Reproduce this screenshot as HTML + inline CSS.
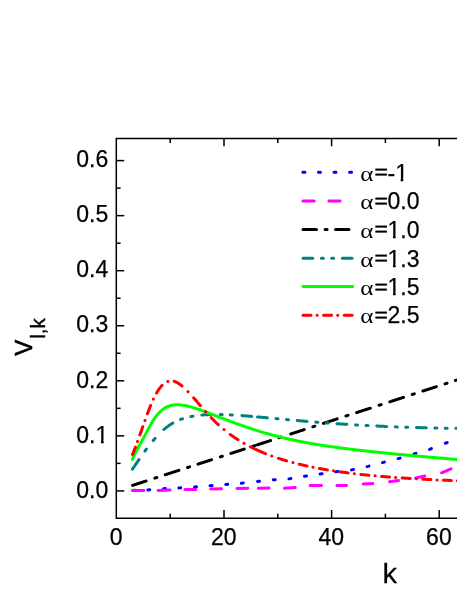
<!DOCTYPE html><html><head><meta charset="utf-8"><style>html,body{margin:0;padding:0;background:#fff;overflow:hidden}svg{display:block;will-change:transform}</style></head><body><svg width="457" height="591" viewBox="0 0 457 591">
<rect width="457" height="591" fill="#fff"/>
<g stroke="#000" stroke-width="1.5" fill="none" stroke-linecap="square">
<path d="M460,138.55 H116.3 V518.15 H460"/>
<path stroke-linecap="butt" d="M170.20,518.15 v-4.4 M170.20,138.55 v4.35"/>
<path stroke-linecap="butt" d="M224.00,518.15 v-8.1 M224.00,138.55 v7.8"/>
<path stroke-linecap="butt" d="M277.80,518.15 v-4.4 M277.80,138.55 v4.35"/>
<path stroke-linecap="butt" d="M331.60,518.15 v-8.1 M331.60,138.55 v7.8"/>
<path stroke-linecap="butt" d="M385.40,518.15 v-4.4 M385.40,138.55 v4.35"/>
<path stroke-linecap="butt" d="M439.20,518.15 v-8.1 M439.20,138.55 v7.8"/>
<path stroke-linecap="butt" d="M116.3,490.90 h7.95"/>
<path stroke-linecap="butt" d="M116.3,463.38 h4.3"/>
<path stroke-linecap="butt" d="M116.3,435.85 h7.95"/>
<path stroke-linecap="butt" d="M116.3,408.32 h4.3"/>
<path stroke-linecap="butt" d="M116.3,380.80 h7.95"/>
<path stroke-linecap="butt" d="M116.3,353.27 h4.3"/>
<path stroke-linecap="butt" d="M116.3,325.75 h7.95"/>
<path stroke-linecap="butt" d="M116.3,298.22 h4.3"/>
<path stroke-linecap="butt" d="M116.3,270.70 h7.95"/>
<path stroke-linecap="butt" d="M116.3,243.17 h4.3"/>
<path stroke-linecap="butt" d="M116.3,215.65 h7.95"/>
<path stroke-linecap="butt" d="M116.3,188.12 h4.3"/>
<path stroke-linecap="butt" d="M116.3,160.60 h7.95"/>
</g>
<g font-family="Liberation Sans, sans-serif" font-size="23" fill="#000" stroke="#000" stroke-width="0.25">
<text x="108.3" y="497.60" text-anchor="end">0.0</text>
<text x="108.3" y="442.55" text-anchor="end">0.1</text>
<text x="108.3" y="387.50" text-anchor="end">0.2</text>
<text x="108.3" y="332.45" text-anchor="end">0.3</text>
<text x="108.3" y="277.40" text-anchor="end">0.4</text>
<text x="108.3" y="222.35" text-anchor="end">0.5</text>
<text x="108.3" y="167.30" text-anchor="end">0.6</text>
<text x="116.10" y="545.1" text-anchor="middle">0</text>
<text x="223.70" y="545.1" text-anchor="middle">20</text>
<text x="331.30" y="545.1" text-anchor="middle">40</text>
<text x="438.90" y="545.1" text-anchor="middle">60</text>
</g>
<text transform="translate(382.55,582.6) scale(1.02,1)" font-family="Liberation Sans, sans-serif" font-size="28.5" stroke="#000" stroke-width="0.25">k</text>
<g transform="translate(32.1,355.8) rotate(-90)" font-family="Liberation Sans, sans-serif" stroke="#000"><text x="0" y="0" font-size="24" stroke-width="0.6">V</text><text x="17.1" y="12.6" font-size="20.5" stroke-width="0.4">l,k</text></g>
<g fill="none" stroke-width="3.0" stroke-linecap="round" stroke-linejoin="round"><g transform="translate(0,0)">
<path stroke="#0000ff" d="M133.00,490.44 L135.00,490.36"/>
<path stroke="#0000ff" d="M147.75,489.88 L149.75,489.72"/>
<path stroke="#0000ff" d="M163.40,488.65 L165.40,488.55"/>
<path stroke="#0000ff" d="M178.75,487.96 L180.75,487.84"/>
<path stroke="#0000ff" d="M194.50,486.98 L196.50,486.82"/>
<path stroke="#0000ff" d="M210.00,485.73 L212.00,485.57"/>
<path stroke="#0000ff" d="M225.75,484.48 L227.75,484.32"/>
<path stroke="#0000ff" d="M241.26,483.26 L243.24,483.04"/>
<path stroke="#0000ff" d="M257.51,481.40 L259.49,481.20"/>
<path stroke="#0000ff" d="M273.25,479.76 L275.25,479.64"/>
<path stroke="#0000ff" d="M288.91,478.86 L290.89,478.54"/>
<path stroke="#0000ff" d="M304.51,476.25 L306.49,475.95"/>
<path stroke="#0000ff" d="M320.11,473.94 L322.09,473.66"/>
<path stroke="#0000ff" d="M335.76,471.78 L337.74,471.52"/>
<path stroke="#0000ff" d="M351.52,469.86 L353.48,469.44"/>
<path stroke="#0000ff" d="M367.03,466.65 L368.97,466.15"/>
<path stroke="#0000ff" d="M382.43,462.65 L384.37,462.15"/>
<path stroke="#0000ff" d="M398.14,458.68 L400.06,458.12"/>
<path stroke="#0000ff" d="M414.04,453.99 L415.96,453.41"/>
<path stroke="#0000ff" d="M429.57,449.36 L431.43,448.64"/>
<path stroke="#0000ff" d="M445.32,443.26 L447.18,442.54"/>
<path stroke="#ff00ff" d="M132.50,490.40 L143.75,490.40"/>
<path stroke="#ff00ff" d="M158.10,490.50 L170.00,490.10"/>
<path stroke="#ff00ff" d="M185.00,489.60 L195.75,489.40"/>
<path stroke="#ff00ff" d="M210.75,489.00 L221.50,488.80"/>
<path stroke="#ff00ff" d="M237.00,488.40 L247.75,488.30"/>
<path stroke="#ff00ff" d="M258.25,488.30 L269.00,488.10"/>
<path stroke="#ff00ff" d="M284.50,488.20 L295.25,487.60"/>
<path stroke="#ff00ff" d="M310.25,485.60 L321.50,485.40"/>
<path stroke="#ff00ff" d="M337.00,485.60 L346.50,485.40"/>
<path stroke="#ff00ff" d="M363.25,483.90 L372.75,483.50"/>
<path stroke="#ff00ff" d="M389.50,481.65 L398.50,480.40"/>
<path stroke="#ff00ff" d="M415.75,477.90 L424.75,476.00"/>
<path stroke="#ff00ff" d="M441.50,472.80 L451.00,468.90"/>
<path stroke="#000" d="M132.50,485.40 L133.05,485.22 L133.59,485.04 L134.14,484.87 L134.69,484.69 L135.23,484.51 L135.78,484.33 L136.33,484.16 L136.87,483.98 L137.42,483.80 L137.97,483.62 L138.51,483.45 L139.06,483.27 L139.61,483.09 L140.15,482.91 L140.70,482.74 L141.25,482.56 L141.79,482.38 L142.34,482.20 L142.89,482.03 L143.43,481.85 L143.98,481.67 L144.53,481.49 L145.08,481.31 L145.62,481.14 L146.11,480.98 M154.78,478.16 L154.92,478.12 L155.46,477.94 L156.01,477.76 L156.56,477.58 L156.80,477.51 M165.27,474.75 L165.30,474.74 L165.85,474.56 L166.40,474.39 L166.94,474.21 L167.49,474.03 L168.04,473.85 L168.59,473.68 L169.13,473.50 L169.68,473.32 L170.23,473.14 L170.77,472.97 L171.32,472.79 L171.87,472.61 L172.41,472.43 L172.96,472.26 L173.51,472.08 L174.05,471.90 L174.60,471.72 L175.15,471.54 L175.69,471.37 L176.24,471.19 L176.79,471.01 L177.33,470.83 L177.88,470.66 L178.43,470.48 L178.88,470.33 M187.55,467.52 L187.72,467.46 L188.27,467.28 L188.81,467.10 L189.36,466.93 L189.56,466.86 M198.03,464.11 L198.11,464.08 L198.66,463.91 L199.20,463.73 L199.75,463.55 L200.30,463.37 L200.84,463.20 L201.39,463.02 L201.94,462.84 L202.48,462.66 L203.03,462.49 L203.58,462.31 L204.12,462.13 L204.67,461.95 L205.22,461.78 L205.76,461.60 L206.31,461.42 L206.86,461.24 L207.40,461.06 L207.95,460.89 L208.50,460.71 L209.04,460.53 L209.59,460.35 L210.14,460.18 L210.68,460.00 L211.23,459.82 L211.64,459.69 M220.31,456.87 L220.53,456.80 L221.07,456.62 L221.62,456.45 L222.17,456.27 L222.33,456.22 M230.80,453.46 L230.91,453.43 L231.46,453.25 L232.01,453.07 L232.55,452.89 L233.10,452.72 L233.65,452.54 L234.19,452.36 L234.74,452.18 L235.29,452.01 L235.83,451.83 L236.38,451.65 L236.93,451.47 L237.47,451.30 L238.02,451.12 L238.57,450.94 L239.12,450.76 L239.66,450.58 L240.21,450.41 L240.76,450.23 L241.30,450.05 L241.85,449.87 L242.40,449.70 L242.94,449.52 L243.49,449.34 L244.04,449.16 L244.30,449.08 M252.90,446.28 L253.33,446.14 L253.88,445.97 L254.42,445.79 L254.90,445.63 M257.30,444.85 L257.70,444.72 L258.25,444.55 L258.80,444.37 L259.34,444.19 L259.89,444.01 L260.44,443.83 L260.98,443.66 L261.53,443.48 L262.08,443.30 L262.63,443.12 L263.17,442.95 L263.72,442.77 L264.27,442.59 L264.81,442.41 L265.36,442.24 L265.91,442.06 L266.45,441.88 L267.00,441.70 L267.55,441.53 L268.09,441.35 L268.64,441.17 L269.19,440.99 L269.73,440.82 L270.28,440.64 L270.57,440.54 M279.02,437.80 L279.03,437.80 L279.57,437.62 L280.12,437.44 L280.67,437.26 L281.15,437.11 M290.78,433.98 L291.06,433.89 L291.60,433.71 L292.15,433.53 L292.70,433.35 L293.24,433.18 L293.79,433.00 L294.34,432.82 L294.88,432.64 L295.43,432.47 L295.98,432.29 L296.52,432.11 L297.07,431.93 L297.62,431.76 L298.16,431.58 L298.71,431.40 L299.26,431.22 L299.80,431.05 L300.35,430.87 L300.90,430.69 L301.44,430.51 L301.99,430.33 L302.54,430.16 L303.08,429.98 L303.63,429.80 L304.18,429.62 L304.24,429.60 M312.80,426.82 L312.93,426.78 L313.47,426.60 L314.02,426.43 L314.57,426.25 L314.82,426.17 M323.39,423.38 L323.86,423.23 L324.41,423.05 L324.95,422.87 L325.50,422.70 L326.05,422.52 L326.59,422.34 L327.14,422.16 L327.69,421.99 L328.23,421.81 L328.78,421.63 L329.33,421.45 L329.87,421.28 L330.42,421.10 L330.97,420.92 L331.52,420.74 L332.06,420.57 L332.61,420.39 L333.16,420.21 L333.70,420.03 L334.25,419.85 L334.80,419.68 L335.34,419.50 L335.89,419.32 L336.44,419.14 L336.98,418.97 L337.17,418.91 M345.95,416.05 L346.28,415.95 L346.82,415.77 L347.37,415.59 L347.92,415.41 L347.99,415.39 M356.56,412.61 L356.67,412.57 L357.21,412.39 L357.76,412.22 L358.31,412.04 L358.85,411.86 L359.40,411.68 L359.95,411.51 L360.49,411.33 L361.04,411.15 L361.59,410.97 L362.13,410.80 L362.68,410.62 L363.23,410.44 L363.77,410.26 L364.32,410.09 L364.87,409.91 L365.41,409.73 L365.96,409.55 L366.51,409.37 L367.05,409.20 L367.60,409.02 L368.15,408.84 L368.69,408.66 L369.24,408.49 L369.79,408.31 L370.33,408.13 L370.34,408.13 M379.12,405.28 L379.63,405.11 L380.18,404.93 L380.72,404.76 L381.16,404.61 M389.73,401.83 L390.02,401.74 L390.56,401.56 L391.11,401.38 L391.66,401.20 L392.20,401.03 L392.75,400.85 L393.30,400.67 L393.84,400.49 L394.39,400.32 L394.94,400.14 L395.48,399.96 L396.03,399.78 L396.58,399.61 L397.12,399.43 L397.67,399.25 L398.22,399.07 L398.76,398.89 L399.31,398.72 L399.86,398.54 L400.40,398.36 L400.95,398.18 L401.50,398.01 L402.05,397.83 L402.59,397.65 L403.14,397.47 L403.51,397.35 M412.29,394.50 L412.43,394.45 L412.98,394.28 L413.53,394.10 L414.07,393.92 L414.33,393.84 M422.90,391.05 L423.37,390.90 L423.91,390.72 L424.46,390.55 L425.01,390.37 L425.56,390.19 L426.10,390.01 L426.65,389.84 L427.20,389.66 L427.74,389.48 L428.29,389.30 L428.84,389.12 L429.38,388.95 L429.93,388.77 L430.48,388.59 L431.02,388.41 L431.57,388.24 L432.12,388.06 L432.66,387.88 L433.21,387.70 L433.76,387.53 L434.30,387.35 L434.85,387.17 L435.40,386.99 L435.94,386.82 L436.40,386.67 M445.00,383.87 L445.24,383.80 L445.78,383.62 L446.33,383.44 L446.88,383.26 L447.00,383.22 M455.40,380.49 L455.63,380.42 L456.17,380.24 L456.72,380.07 L457.27,379.89 L457.81,379.71 L458.36,379.53 L458.91,379.36 L459.45,379.18 L460.00,379.00"/>
<path stroke="#008080" d="M132.43,469.18 L132.70,468.80 L132.98,468.41 L133.25,468.02 L133.52,467.62 L133.80,467.23 L134.07,466.83 L134.34,466.43 L134.62,466.03 L134.89,465.62 L135.16,465.22 L135.44,464.81 L135.71,464.41 L135.98,464.00 L136.25,463.60 L136.53,463.19 L136.80,462.78 L137.07,462.37 L137.35,461.97 L137.62,461.56 L137.89,461.15 L138.17,460.75 L138.44,460.34 L138.71,459.94 L138.96,459.58 M144.90,451.11 L145.00,450.98 L145.27,450.61 L145.54,450.24 L145.82,449.87 L146.09,449.51 L146.36,449.14 L146.40,449.10 M153.22,440.54 L153.47,440.25 L153.74,439.93 L154.01,439.61 L154.29,439.30 L154.56,438.98 L154.83,438.67 L155.03,438.45 M163.89,429.49 L164.12,429.29 L164.39,429.06 L164.67,428.82 L164.94,428.60 L165.21,428.37 L165.49,428.15 L165.76,427.92 L166.03,427.70 L166.31,427.49 L166.58,427.27 L166.85,427.06 L167.13,426.85 L167.40,426.65 L167.67,426.44 L167.95,426.24 L168.22,426.05 L168.49,425.85 L168.77,425.66 L169.04,425.46 L169.31,425.28 L169.59,425.09 L169.86,424.91 L170.13,424.72 L170.41,424.55 L170.68,424.37 L170.95,424.20 L171.22,424.02 L171.50,423.86 L171.77,423.69 L172.04,423.53 L172.32,423.36 L172.59,423.20 L172.77,423.10 M180.59,419.46 L180.79,419.38 L181.06,419.28 L181.33,419.19 L181.61,419.09 L181.88,418.99 L182.15,418.90 L182.43,418.81 L182.51,418.78 M190.99,416.55 L191.17,416.51 L191.44,416.46 L191.71,416.40 L191.99,416.35 L192.26,416.30 L192.53,416.25 L192.81,416.20 L193.02,416.16 M201.80,415.02 L201.82,415.02 L202.10,415.00 L202.37,414.98 L202.64,414.95 L202.92,414.93 L203.19,414.91 L203.46,414.89 L203.74,414.87 L204.01,414.85 L204.28,414.83 L204.56,414.81 L204.83,414.79 L205.10,414.77 L205.38,414.76 L205.65,414.74 L205.92,414.72 L206.19,414.71 L206.47,414.69 L206.74,414.68 L207.01,414.67 L207.29,414.65 L207.56,414.64 L207.83,414.63 L208.11,414.61 L208.38,414.60 L208.65,414.59 L208.93,414.58 L209.20,414.57 L209.47,414.56 L209.75,414.55 L210.02,414.54 L210.29,414.54 L210.57,414.53 L210.84,414.52 L211.11,414.51 L211.39,414.51 L211.60,414.50 M220.24,414.50 L220.40,414.50 L220.67,414.51 L220.95,414.51 L221.22,414.52 L221.49,414.52 L221.77,414.53 L222.04,414.54 L222.22,414.54 M230.28,414.87 L230.51,414.88 L230.78,414.89 L231.06,414.91 L231.33,414.92 L231.60,414.94 L231.88,414.95 L232.15,414.97 L232.36,414.98 M242.00,415.62 L242.26,415.64 L242.53,415.66 L242.80,415.68 L243.08,415.70 L243.35,415.72 L243.62,415.74 L243.90,415.76 L244.17,415.79 L244.44,415.81 L244.72,415.83 L244.99,415.85 L245.26,415.87 L245.54,415.89 L245.81,415.91 L246.08,415.94 L246.36,415.96 L246.63,415.98 L246.90,416.00 L247.18,416.02 L247.45,416.05 L247.72,416.07 L247.99,416.09 L248.27,416.11 L248.54,416.14 L248.81,416.16 L249.09,416.18 L249.36,416.20 L249.63,416.23 L249.91,416.25 L250.18,416.27 L250.45,416.29 L250.73,416.32 L251.00,416.34 L251.27,416.36 L251.55,416.39 L251.75,416.40 M257.50,416.91 L257.56,416.91 L257.83,416.94 L258.10,416.96 L258.38,416.98 L258.65,417.01 L258.92,417.03 L259.20,417.06 L259.47,417.08 L259.74,417.11 L260.02,417.13 L260.29,417.16 L260.56,417.18 L260.84,417.21 L261.11,417.23 L261.38,417.25 L261.65,417.28 L261.93,417.30 L262.20,417.33 L262.47,417.35 L262.75,417.38 L263.02,417.40 L263.29,417.43 L263.57,417.45 L263.84,417.48 L264.11,417.50 L264.39,417.53 L264.66,417.55 L264.93,417.58 L265.21,417.60 L265.48,417.63 L265.75,417.65 L266.03,417.68 L266.30,417.70 L266.57,417.73 L266.85,417.76 L267.12,417.78 L267.35,417.80 M276.04,418.61 L276.13,418.62 L276.41,418.64 L276.68,418.67 L276.95,418.69 L277.23,418.72 L277.50,418.74 L277.77,418.77 L278.05,418.79 L278.06,418.79 M286.49,419.57 L286.52,419.57 L286.79,419.60 L287.06,419.62 L287.34,419.65 L287.61,419.67 L287.88,419.70 L288.16,419.72 L288.43,419.75 L288.51,419.76 M297.25,420.54 L297.44,420.56 L297.72,420.58 L297.99,420.60 L298.26,420.63 L298.54,420.65 L298.81,420.68 L299.08,420.70 L299.36,420.72 L299.63,420.75 L299.90,420.77 L300.18,420.79 L300.45,420.82 L300.72,420.84 L301.00,420.87 L301.27,420.89 L301.54,420.91 L301.82,420.94 L302.09,420.96 L302.36,420.98 L302.64,421.01 L302.91,421.03 L303.18,421.05 L303.45,421.08 L303.73,421.10 L304.00,421.12 L304.27,421.15 L304.55,421.17 L304.82,421.19 L305.09,421.22 L305.37,421.24 L305.64,421.26 L305.91,421.29 L306.19,421.31 L306.46,421.33 L306.73,421.36 L307.01,421.38 L307.10,421.39 M315.79,422.10 L316.02,422.12 L316.30,422.14 L316.57,422.17 L316.84,422.19 L317.12,422.21 L317.39,422.23 L317.66,422.25 L317.81,422.26 M326.24,422.92 L326.40,422.93 L326.68,422.95 L326.95,422.97 L327.22,422.99 L327.50,423.01 L327.77,423.03 L328.04,423.05 L328.26,423.07 M337.00,423.69 L337.06,423.70 L337.33,423.72 L337.61,423.74 L337.88,423.75 L338.15,423.77 L338.42,423.79 L338.70,423.81 L338.97,423.83 L339.24,423.85 L339.52,423.87 L339.79,423.89 L340.06,423.90 L340.34,423.92 L340.61,423.94 L340.88,423.96 L341.16,423.98 L341.43,424.00 L341.70,424.01 L341.98,424.03 L342.25,424.05 L342.52,424.07 L342.80,424.09 L343.07,424.11 L343.34,424.12 L343.62,424.14 L343.89,424.16 L344.16,424.18 L344.44,424.20 L344.71,424.21 L344.98,424.23 L345.25,424.25 L345.53,424.27 L345.80,424.28 L346.07,424.30 L346.35,424.32 L346.62,424.34 L346.85,424.35 M355.54,424.89 L355.64,424.90 L355.91,424.91 L356.18,424.93 L356.46,424.94 L356.73,424.96 L357.00,424.98 L357.28,424.99 L357.55,425.01 L357.56,425.01 M365.99,425.48 L366.02,425.48 L366.29,425.50 L366.56,425.51 L366.84,425.53 L367.11,425.54 L367.38,425.56 L367.66,425.57 L367.93,425.59 L368.01,425.59 M376.75,426.03 L376.95,426.04 L377.22,426.05 L377.49,426.07 L377.77,426.08 L378.04,426.09 L378.31,426.11 L378.59,426.12 L378.86,426.13 L379.13,426.14 L379.41,426.16 L379.68,426.17 L379.95,426.18 L380.22,426.20 L380.50,426.21 L380.77,426.22 L381.04,426.23 L381.32,426.25 L381.59,426.26 L381.86,426.27 L382.14,426.28 L382.41,426.30 L382.68,426.31 L382.96,426.32 L383.23,426.33 L383.50,426.34 L383.78,426.36 L384.05,426.37 L384.32,426.38 L384.60,426.39 L384.87,426.40 L385.14,426.42 L385.42,426.43 L385.69,426.44 L385.96,426.45 L386.24,426.46 L386.51,426.48 L386.60,426.48 M395.29,426.84 L395.52,426.84 L395.80,426.85 L396.07,426.87 L396.34,426.88 L396.62,426.89 L396.89,426.90 L397.16,426.91 L397.31,426.91 M405.74,427.21 L405.91,427.22 L406.18,427.23 L406.45,427.24 L406.73,427.25 L407.00,427.25 L407.27,427.26 L407.55,427.27 L407.76,427.28 M416.50,427.55 L416.56,427.55 L416.83,427.55 L417.11,427.56 L417.38,427.57 L417.65,427.58 L417.93,427.59 L418.20,427.59 L418.47,427.60 L418.75,427.61 L419.02,427.62 L419.29,427.62 L419.57,427.63 L419.84,427.64 L420.11,427.64 L420.39,427.65 L420.66,427.66 L420.93,427.67 L421.21,427.67 L421.48,427.68 L421.75,427.69 L422.02,427.70 L422.30,427.70 L422.57,427.71 L422.84,427.72 L423.12,427.72 L423.39,427.73 L423.66,427.74 L423.94,427.74 L424.21,427.75 L424.48,427.76 L424.76,427.76 L425.03,427.77 L425.30,427.78 L425.58,427.78 L425.85,427.79 L426.12,427.80 L426.25,427.80 M434.85,427.99 L434.87,427.99 L435.14,427.99 L435.41,428.00 L435.68,428.01 L435.96,428.01 L436.23,428.02 L436.50,428.02 L436.78,428.03 L436.85,428.03 M445.20,428.17 L445.25,428.17 L445.52,428.18 L445.79,428.18 L446.07,428.19 L446.34,428.19 L446.61,428.20 L446.89,428.20 L447.16,428.20 L447.20,428.20 M455.85,428.32 L455.90,428.32 L456.18,428.32 L456.45,428.32 L456.72,428.33 L456.99,428.33 L457.27,428.33 L457.54,428.33 L457.81,428.34 L458.09,428.34 L458.36,428.34 L458.63,428.35 L458.91,428.35 L459.18,428.35 L459.45,428.35 L459.73,428.36 L460.00,428.36"/>
<path stroke="#00ff00" d="M132.43,459.39 L133.25,457.41 L134.07,455.57 L134.89,453.84 L135.71,452.20 L136.53,450.62 L137.36,449.08 L138.18,447.58 L139.00,446.10 L139.82,444.62 L140.64,443.15 L141.46,441.68 L142.28,440.20 L143.10,438.71 L143.92,437.20 L144.74,435.68 L145.57,434.14 L146.39,432.57 L147.21,431.00 L148.03,429.44 L148.85,427.89 L149.67,426.37 L150.49,424.89 L151.31,423.46 L152.13,422.08 L152.95,420.75 L153.78,419.49 L154.60,418.29 L155.42,417.16 L156.24,416.08 L157.06,415.06 L157.88,414.10 L158.70,413.19 L159.52,412.34 L160.34,411.55 L161.16,410.80 L161.99,410.11 L162.81,409.46 L163.63,408.86 L164.45,408.32 L165.27,407.81 L166.09,407.35 L166.91,406.94 L167.73,406.57 L168.55,406.24 L169.37,405.95 L170.19,405.69 L171.02,405.47 L171.84,405.29 L172.66,405.14 L173.48,405.01 L174.30,404.91 L175.12,404.84 L175.94,404.80 L176.76,404.77 L177.58,404.77 L178.40,404.79 L179.23,404.83 L180.05,404.89 L180.87,404.96 L181.69,405.05 L182.51,405.16 L183.33,405.28 L184.15,405.42 L184.97,405.56 L185.79,405.72 L186.61,405.89 L187.44,406.08 L188.26,406.27 L189.08,406.47 L189.90,406.68 L190.72,406.90 L191.54,407.13 L192.36,407.36 L193.18,407.60 L194.00,407.85 L194.82,408.11 L195.65,408.37 L196.47,408.63 L197.29,408.90 L198.11,409.18 L198.93,409.46 L199.75,409.74 L200.57,410.03 L201.39,410.32 L202.21,410.61 L203.03,410.91 L203.86,411.21 L204.68,411.51 L205.50,411.82 L206.32,412.12 L207.14,412.43 L207.96,412.74 L208.78,413.05 L209.60,413.37 L210.42,413.68 L211.24,413.99 L212.06,414.31 L212.89,414.63 L213.71,414.94 L214.53,415.26 L215.35,415.58 L216.17,415.90 L216.99,416.21 L217.81,416.53 L218.63,416.85 L219.45,417.17 L220.27,417.49 L221.10,417.80 L221.92,418.12 L222.74,418.44 L223.56,418.75 L224.38,419.07 L225.20,419.38 L226.02,419.70 L226.84,420.01 L227.66,420.32 L228.48,420.63 L229.31,420.94 L230.13,421.25 L230.95,421.56 L231.77,421.86 L232.59,422.17 L233.41,422.47 L234.23,422.77 L235.05,423.08 L235.87,423.38 L236.69,423.67 L237.52,423.97 L238.34,424.27 L239.16,424.56 L239.98,424.85 L240.80,425.14 L241.62,425.43 L242.44,425.72 L243.26,426.01 L244.08,426.29 L244.90,426.58 L245.72,426.86 L246.55,427.14 L247.37,427.42 L248.19,427.69 L249.01,427.97 L249.83,428.24 L250.65,428.51 L251.47,428.78 L252.29,429.05 L253.11,429.31 L253.93,429.58 L254.76,429.84 L255.58,430.10 L256.40,430.36 L257.22,430.61 L258.04,430.87 L258.86,431.12 L259.68,431.37 L260.50,431.62 L261.32,431.87 L262.14,432.11 L262.97,432.36 L263.79,432.60 L264.61,432.84 L265.43,433.08 L266.25,433.31 L267.07,433.55 L267.89,433.78 L268.71,434.01 L269.53,434.24 L270.35,434.47 L271.18,434.69 L272.00,434.92 L272.82,435.14 L273.64,435.36 L274.46,435.57 L275.28,435.79 L276.10,436.00 L276.92,436.22 L277.74,436.43 L278.56,436.63 L279.38,436.84 L280.21,437.05 L281.03,437.25 L281.85,437.45 L282.67,437.65 L283.49,437.85 L284.31,438.04 L285.13,438.24 L285.95,438.43 L286.77,438.62 L287.59,438.81 L288.42,438.99 L289.24,439.18 L290.06,439.36 L290.88,439.54 L291.70,439.72 L292.52,439.90 L293.34,440.08 L294.16,440.25 L294.98,440.42 L295.80,440.59 L296.63,440.76 L297.45,440.93 L298.27,441.10 L299.09,441.26 L299.91,441.42 L300.73,441.58 L301.55,441.74 L302.37,441.90 L303.19,442.06 L304.01,442.21 L304.84,442.36 L305.66,442.52 L306.48,442.67 L307.30,442.82 L308.12,442.96 L308.94,443.11 L309.76,443.25 L310.58,443.40 L311.40,443.54 L312.22,443.68 L313.05,443.82 L313.87,443.96 L314.69,444.10 L315.51,444.24 L316.33,444.37 L317.15,444.51 L317.97,444.64 L318.79,444.77 L319.61,444.90 L320.43,445.03 L321.25,445.16 L322.08,445.29 L322.90,445.41 L323.72,445.54 L324.54,445.67 L325.36,445.79 L326.18,445.91 L327.00,446.03 L327.82,446.16 L328.64,446.28 L329.46,446.39 L330.29,446.51 L331.11,446.63 L331.93,446.75 L332.75,446.86 L333.57,446.98 L334.39,447.09 L335.21,447.21 L336.03,447.32 L336.85,447.43 L337.67,447.54 L338.50,447.65 L339.32,447.76 L340.14,447.87 L340.96,447.98 L341.78,448.09 L342.60,448.19 L343.42,448.30 L344.24,448.41 L345.06,448.51 L345.88,448.61 L346.71,448.72 L347.53,448.82 L348.35,448.92 L349.17,449.02 L349.99,449.13 L350.81,449.23 L351.63,449.33 L352.45,449.43 L353.27,449.52 L354.09,449.62 L354.91,449.72 L355.74,449.82 L356.56,449.91 L357.38,450.01 L358.20,450.11 L359.02,450.20 L359.84,450.30 L360.66,450.39 L361.48,450.48 L362.30,450.58 L363.12,450.67 L363.95,450.76 L364.77,450.85 L365.59,450.95 L366.41,451.04 L367.23,451.13 L368.05,451.22 L368.87,451.31 L369.69,451.40 L370.51,451.49 L371.33,451.57 L372.16,451.66 L372.98,451.75 L373.80,451.84 L374.62,451.92 L375.44,452.01 L376.26,452.10 L377.08,452.18 L377.90,452.27 L378.72,452.35 L379.54,452.44 L380.37,452.52 L381.19,452.61 L382.01,452.69 L382.83,452.78 L383.65,452.86 L384.47,452.94 L385.29,453.02 L386.11,453.11 L386.93,453.19 L387.75,453.27 L388.57,453.35 L389.40,453.43 L390.22,453.51 L391.04,453.60 L391.86,453.68 L392.68,453.76 L393.50,453.84 L394.32,453.92 L395.14,453.99 L395.96,454.07 L396.78,454.15 L397.61,454.23 L398.43,454.31 L399.25,454.39 L400.07,454.47 L400.89,454.54 L401.71,454.62 L402.53,454.70 L403.35,454.78 L404.17,454.85 L404.99,454.93 L405.82,455.01 L406.64,455.08 L407.46,455.16 L408.28,455.24 L409.10,455.31 L409.92,455.39 L410.74,455.46 L411.56,455.54 L412.38,455.61 L413.20,455.69 L414.03,455.76 L414.85,455.84 L415.67,455.91 L416.49,455.99 L417.31,456.06 L418.13,456.13 L418.95,456.21 L419.77,456.28 L420.59,456.35 L421.41,456.43 L422.24,456.50 L423.06,456.57 L423.88,456.65 L424.70,456.72 L425.52,456.79 L426.34,456.86 L427.16,456.94 L427.98,457.01 L428.80,457.08 L429.62,457.15 L430.44,457.23 L431.27,457.30 L432.09,457.37 L432.91,457.44 L433.73,457.51 L434.55,457.58 L435.37,457.66 L436.19,457.73 L437.01,457.80 L437.83,457.87 L438.65,457.94 L439.48,458.01 L440.30,458.08 L441.12,458.15 L441.94,458.22 L442.76,458.29 L443.58,458.36 L444.40,458.43 L445.22,458.50 L446.04,458.57 L446.86,458.64 L447.69,458.71 L448.51,458.78 L449.33,458.85 L450.15,458.92 L450.97,458.99 L451.79,459.06 L452.61,459.13 L453.43,459.20 L454.25,459.27 L455.07,459.34 L455.90,459.41 L456.72,459.48 L457.54,459.55 L458.36,459.62 L459.18,459.69 L460.00,459.75"/>
<path stroke="#ff0000" d="M132.50,454.45 L132.65,454.10 L132.87,453.59 L133.09,453.07 L133.30,452.54 L133.52,452.01 L133.74,451.47 L133.96,450.93 L134.18,450.38 L134.40,449.83 L134.62,449.27 L134.83,448.70 L135.05,448.14 L135.27,447.56 L135.43,447.16 M137.49,441.60 L137.52,441.50 M139.87,434.96 L140.08,434.37 L140.30,433.75 L140.52,433.14 L140.73,432.52 L140.95,431.91 L141.17,431.29 L141.39,430.67 L141.61,430.05 L141.83,429.44 L142.05,428.82 L142.26,428.20 L142.48,427.58 L142.70,426.97 L142.77,426.78 M144.98,420.53 L145.02,420.43 M147.41,413.81 L147.51,413.54 L147.73,412.95 L147.95,412.36 L148.16,411.78 L148.38,411.20 L148.60,410.63 L148.82,410.05 L149.04,409.49 L149.26,408.92 L149.48,408.36 L149.69,407.81 L149.91,407.26 L150.13,406.71 L150.35,406.17 L150.57,405.63 L150.61,405.52 M153.38,399.21 L153.41,399.14 L153.42,399.11 M156.57,393.04 L156.69,392.84 L156.90,392.47 L157.12,392.10 L157.34,391.74 L157.56,391.39 L157.78,391.04 L158.00,390.70 L158.22,390.37 L158.43,390.04 L158.65,389.71 L158.87,389.40 L159.09,389.09 L159.31,388.78 L159.53,388.48 L159.75,388.19 L159.96,387.90 L160.18,387.62 L160.40,387.35 L160.62,387.08 L160.84,386.82 L161.06,386.56 L161.28,386.31 L161.49,386.07 L161.71,385.83 L161.93,385.60 L162.07,385.45 M167.85,381.50 L167.95,381.46 M174.20,381.38 L174.39,381.43 L174.61,381.50 L174.82,381.58 L175.04,381.66 L175.26,381.74 L175.48,381.83 L175.70,381.92 L175.92,382.01 L176.14,382.11 L176.35,382.21 L176.57,382.32 L176.79,382.43 L177.01,382.54 L177.23,382.66 L177.45,382.78 L177.66,382.91 L177.88,383.03 L178.10,383.16 L178.32,383.30 L178.54,383.43 L178.76,383.57 L178.98,383.72 L179.19,383.86 L179.41,384.01 L179.63,384.16 L179.85,384.32 L180.07,384.48 L180.29,384.64 L180.51,384.80 L180.72,384.96 L180.94,385.13 L181.16,385.30 L181.38,385.47 L181.60,385.65 L181.82,385.83 L182.02,386.00 M187.95,391.60 L188.05,391.70 M193.70,397.93 L193.84,398.08 L194.05,398.33 L194.27,398.58 L194.49,398.83 L194.71,399.08 L194.93,399.33 L195.15,399.58 L195.37,399.84 L195.58,400.09 L195.80,400.34 L196.02,400.59 L196.24,400.85 L196.46,401.10 L196.68,401.35 L196.90,401.61 L197.11,401.86 L197.33,402.11 L197.55,402.37 L197.77,402.62 L197.99,402.87 L198.21,403.13 L198.42,403.38 L198.64,403.64 L198.86,403.89 L199.08,404.14 L199.30,404.40 L199.52,404.65 L199.74,404.90 L199.95,405.16 L200.17,405.41 L200.39,405.66 L200.44,405.72 M205.66,411.66 L205.74,411.75 M211.14,417.60 L211.32,417.78 L211.54,418.01 L211.75,418.24 L211.97,418.46 L212.19,418.69 L212.41,418.91 L212.63,419.14 L212.85,419.36 L213.07,419.58 L213.28,419.80 L213.50,420.02 L213.72,420.24 L213.94,420.46 L214.16,420.68 L214.38,420.90 L214.60,421.11 L214.81,421.33 L215.03,421.54 L215.25,421.76 L215.47,421.97 L215.69,422.18 L215.91,422.40 L216.13,422.61 L216.34,422.82 L216.56,423.02 L216.78,423.23 L217.00,423.44 L217.22,423.65 L217.44,423.85 L217.66,424.06 L217.87,424.26 L218.09,424.46 L218.31,424.66 L218.38,424.73 M223.95,429.58 L223.99,429.61 L224.05,429.66 M230.26,434.47 L230.33,434.52 L230.55,434.68 L230.77,434.84 L230.99,435.00 L231.20,435.15 L231.42,435.31 L231.64,435.46 L231.86,435.62 L232.08,435.77 L232.30,435.93 L232.51,436.08 L232.73,436.23 L232.95,436.39 L233.17,436.54 L233.39,436.69 L233.61,436.84 L233.83,436.99 L234.04,437.14 L234.26,437.28 L234.48,437.43 L234.70,437.58 L234.92,437.73 L235.14,437.87 L235.36,438.02 L235.57,438.16 L235.79,438.31 L236.01,438.45 L236.23,438.59 L236.45,438.74 L236.67,438.88 L236.89,439.02 L237.10,439.16 L237.32,439.30 L237.54,439.44 L237.76,439.58 L237.98,439.72 L238.03,439.75 M243.95,443.31 L244.05,443.37 M250.45,446.81 L250.65,446.92 L250.87,447.03 L251.09,447.14 L251.31,447.25 L251.53,447.36 L251.75,447.47 L251.96,447.58 L252.18,447.69 L252.40,447.79 L252.62,447.90 L252.84,448.01 L253.06,448.12 L253.27,448.22 L253.49,448.33 L253.71,448.43 L253.93,448.54 L254.15,448.64 L254.37,448.75 L254.59,448.85 L254.80,448.96 L255.02,449.06 L255.24,449.16 L255.46,449.27 L255.68,449.37 L255.90,449.47 L256.12,449.57 L256.33,449.67 L256.55,449.78 L256.77,449.88 L256.99,449.98 L257.21,450.08 L257.43,450.18 L257.50,450.21 M257.60,450.25 L257.65,450.27 L257.86,450.37 L258.08,450.47 L258.30,450.57 L258.52,450.67 L258.74,450.77 L258.96,450.86 L259.17,450.96 L259.39,451.06 L259.61,451.15 L259.83,451.25 L260.05,451.34 L260.27,451.44 L260.49,451.53 L260.70,451.63 L260.92,451.72 L261.14,451.81 L261.36,451.91 L261.58,452.00 L261.80,452.09 L262.02,452.19 L262.23,452.28 L262.45,452.37 L262.67,452.46 L262.89,452.55 L263.11,452.64 L263.33,452.73 L263.55,452.82 L263.76,452.91 L263.98,453.00 L264.20,453.09 L264.42,453.18 L264.64,453.27 L264.86,453.36 L265.08,453.45 L265.29,453.54 L265.51,453.62 L265.60,453.66 M271.70,455.98 L271.80,456.02 M278.40,458.29 L278.41,458.29 L278.62,458.37 L278.84,458.44 L279.06,458.51 L279.28,458.58 L279.50,458.65 L279.72,458.72 L279.93,458.79 L280.15,458.86 L280.37,458.93 L280.59,459.00 L280.81,459.07 L281.03,459.14 L281.25,459.21 L281.46,459.28 L281.68,459.34 L281.90,459.41 L282.12,459.48 L282.34,459.55 L282.56,459.62 L282.78,459.68 L282.99,459.75 L283.21,459.82 L283.43,459.88 L283.65,459.95 L283.87,460.02 L284.09,460.08 L284.31,460.15 L284.52,460.21 L284.74,460.28 L284.96,460.34 L285.18,460.41 L285.40,460.47 L285.62,460.54 L285.84,460.60 L286.05,460.67 L286.27,460.73 L286.49,460.79 L286.66,460.84 M292.95,462.59 L293.05,462.62 L293.05,462.62 M299.26,464.19 L299.38,464.22 L299.60,464.28 L299.82,464.33 L300.04,464.38 L300.26,464.43 L300.48,464.49 L300.69,464.54 L300.91,464.59 L301.13,464.64 L301.35,464.69 L301.57,464.75 L301.79,464.80 L302.01,464.85 L302.22,464.90 L302.44,464.95 L302.66,465.00 L302.88,465.05 L303.10,465.10 L303.32,465.15 L303.54,465.20 L303.75,465.25 L303.97,465.30 L304.19,465.35 L304.41,465.40 L304.63,465.45 L304.85,465.50 L305.07,465.55 L305.28,465.60 L305.50,465.65 L305.72,465.69 L305.94,465.74 L306.16,465.79 L306.38,465.84 L306.59,465.89 L306.81,465.94 L307.03,465.98 M312.95,467.23 L313.05,467.24 M319.45,468.48 L319.49,468.49 L319.71,468.53 L319.93,468.57 L320.14,468.61 L320.36,468.65 L320.58,468.69 L320.80,468.73 L321.02,468.77 L321.24,468.80 L321.45,468.84 L321.67,468.88 L321.89,468.92 L322.11,468.96 L322.33,469.00 L322.55,469.04 L322.77,469.08 L322.98,469.12 L323.20,469.16 L323.42,469.19 L323.64,469.23 L323.86,469.27 L324.08,469.31 L324.30,469.35 L324.51,469.38 L324.73,469.42 L324.95,469.46 L325.17,469.50 L325.39,469.53 L325.61,469.57 L325.83,469.61 L326.04,469.65 L326.26,469.68 L326.48,469.72 L326.70,469.76 L326.92,469.79 L327.14,469.83 L327.35,469.87 L327.45,469.88 M333.55,470.86 L333.65,470.87 M340.11,471.83 L340.25,471.84 L340.47,471.88 L340.68,471.91 L340.90,471.94 L341.12,471.97 L341.34,472.00 L341.56,472.03 L341.78,472.06 L342.00,472.09 L342.21,472.12 L342.43,472.15 L342.65,472.18 L342.87,472.21 L343.09,472.24 L343.31,472.27 L343.53,472.30 L343.74,472.33 L343.96,472.36 L344.18,472.39 L344.40,472.42 L344.62,472.45 L344.84,472.47 L345.06,472.50 L345.27,472.53 L345.49,472.56 L345.71,472.59 L345.93,472.62 L346.15,472.65 L346.37,472.68 L346.59,472.71 L346.80,472.73 L347.02,472.76 L347.24,472.79 L347.46,472.82 L347.68,472.85 L347.90,472.87 L348.11,472.90 L348.19,472.91 M354.35,473.67 L354.45,473.68 M360.88,474.41 L361.01,474.43 L361.23,474.45 L361.44,474.47 L361.66,474.50 L361.88,474.52 L362.10,474.55 L362.32,474.57 L362.54,474.59 L362.76,474.62 L362.97,474.64 L363.19,474.66 L363.41,474.69 L363.63,474.71 L363.85,474.73 L364.07,474.76 L364.29,474.78 L364.50,474.80 L364.72,474.82 L364.94,474.85 L365.16,474.87 L365.38,474.89 L365.60,474.91 L365.82,474.94 L366.03,474.96 L366.25,474.98 L366.47,475.00 L366.69,475.03 L366.91,475.05 L367.13,475.07 L367.35,475.09 L367.56,475.12 L367.78,475.14 L368.00,475.16 L368.22,475.18 L368.44,475.20 L368.66,475.22 L368.87,475.25 L368.92,475.25 M375.05,475.84 L375.15,475.85 M381.55,476.41 L381.77,476.43 L381.99,476.45 L382.20,476.47 L382.42,476.49 L382.64,476.50 L382.86,476.52 L383.08,476.54 L383.30,476.56 L383.52,476.58 L383.73,476.60 L383.95,476.61 L384.17,476.63 L384.39,476.65 L384.61,476.67 L384.83,476.69 L385.05,476.70 L385.26,476.72 L385.48,476.74 L385.70,476.76 L385.92,476.78 L386.14,476.79 L386.36,476.81 L386.58,476.83 L386.79,476.85 L387.01,476.86 L387.23,476.88 L387.45,476.90 L387.67,476.92 L387.89,476.93 L388.11,476.95 L388.32,476.97 L388.54,476.98 L388.76,477.00 L388.98,477.02 L389.20,477.04 L389.42,477.05 L389.55,477.06 M395.65,477.52 L395.75,477.53 M402.18,477.97 L402.31,477.98 L402.53,478.00 L402.75,478.01 L402.96,478.02 L403.18,478.04 L403.40,478.05 L403.62,478.07 L403.84,478.08 L404.06,478.10 L404.28,478.11 L404.49,478.13 L404.71,478.14 L404.93,478.15 L405.15,478.17 L405.37,478.18 L405.59,478.20 L405.81,478.21 L406.02,478.22 L406.24,478.24 L406.46,478.25 L406.68,478.27 L406.90,478.28 L407.12,478.29 L407.34,478.31 L407.55,478.32 L407.77,478.33 L407.99,478.35 L408.21,478.36 L408.43,478.38 L408.65,478.39 L408.86,478.40 L409.08,478.42 L409.30,478.43 L409.52,478.44 L409.74,478.46 L409.96,478.47 L410.18,478.48 L410.22,478.49 M416.35,478.85 L416.45,478.85 M422.85,479.20 L422.85,479.20 L423.07,479.21 L423.29,479.22 L423.51,479.24 L423.72,479.25 L423.94,479.26 L424.16,479.27 L424.38,479.28 L424.60,479.29 L424.82,479.30 L425.04,479.31 L425.25,479.33 L425.47,479.34 L425.69,479.35 L425.91,479.36 L426.13,479.37 L426.35,479.38 L426.57,479.39 L426.78,479.40 L427.00,479.41 L427.22,479.43 L427.44,479.44 L427.66,479.45 L427.88,479.46 L428.10,479.47 L428.31,479.48 L428.53,479.49 L428.75,479.50 L428.97,479.51 L429.19,479.52 L429.41,479.53 L429.62,479.54 L429.84,479.55 L430.06,479.56 L430.28,479.58 L430.50,479.59 L430.72,479.60 L430.85,479.60 M436.95,479.89 L437.05,479.89 M443.42,480.16 L443.61,480.17 L443.83,480.18 L444.05,480.19 L444.27,480.20 L444.48,480.21 L444.70,480.22 L444.92,480.23 L445.14,480.24 L445.36,480.24 L445.58,480.25 L445.80,480.26 L446.01,480.27 L446.23,480.28 L446.45,480.29 L446.67,480.30 L446.89,480.31 L447.11,480.31 L447.33,480.32 L447.54,480.33 L447.76,480.34 L447.98,480.35 L448.20,480.36 L448.42,480.37 L448.64,480.37 L448.86,480.38 L449.07,480.39 L449.29,480.40 L449.51,480.41 L449.73,480.42 L449.95,480.43 L450.17,480.43 L450.38,480.44 L450.60,480.45 L450.82,480.46 L451.04,480.47 L451.26,480.48 L451.38,480.48 M457.45,480.70 L457.55,480.71"/>
</g>
<path stroke="#0000ff" stroke-dasharray="2 13.55" d="M302.9,172.25 H353"/>
<path stroke="#ff00ff" stroke-dasharray="11.25 14.65" d="M303,200.9 H353"/>
<path stroke="#000" stroke-dasharray="13.5 8.6 2 8.4" d="M303,229.4 H352.5"/>
<path stroke="#008080" stroke-dasharray="9.75 8.6 2 8.35 2 8.65" d="M303,258.35 H352.2"/>
<path stroke="#00ff00" d="M303,286.5 H351"/><path stroke="#00ff00" stroke-linecap="butt" d="M350,286.5 H353.9"/>
<path stroke="#ff0000" stroke-dasharray="8 6.1 0.1 6.4" d="M303,315.35 H352.2"/>
</g>
<text transform="translate(360.2,180.55) scale(1.14,1)" font-family="Liberation Serif, serif" font-size="22">α</text>
<text transform="translate(374.5,172.10) scale(1,0.84)" y="8.55" font-family="Liberation Sans, sans-serif" font-size="23" stroke="#000" stroke-width="0.55">=</text>
<text x="387.53" y="180.55" font-family="Liberation Sans, sans-serif" font-size="23" stroke="#000" stroke-width="0.25">-1</text>
<text transform="translate(360.2,209.20) scale(1.14,1)" font-family="Liberation Serif, serif" font-size="22">α</text>
<text transform="translate(374.5,200.75) scale(1,0.84)" y="8.55" font-family="Liberation Sans, sans-serif" font-size="23" stroke="#000" stroke-width="0.55">=</text>
<text x="387.53" y="209.20" font-family="Liberation Sans, sans-serif" font-size="23" stroke="#000" stroke-width="0.25">0.0</text>
<text transform="translate(360.2,237.70) scale(1.14,1)" font-family="Liberation Serif, serif" font-size="22">α</text>
<text transform="translate(374.5,229.25) scale(1,0.84)" y="8.55" font-family="Liberation Sans, sans-serif" font-size="23" stroke="#000" stroke-width="0.55">=</text>
<text x="387.53" y="237.70" font-family="Liberation Sans, sans-serif" font-size="23" stroke="#000" stroke-width="0.25">1.0</text>
<text transform="translate(360.2,266.75) scale(1.14,1)" font-family="Liberation Serif, serif" font-size="22">α</text>
<text transform="translate(374.5,258.30) scale(1,0.84)" y="8.55" font-family="Liberation Sans, sans-serif" font-size="23" stroke="#000" stroke-width="0.55">=</text>
<text x="387.53" y="266.75" font-family="Liberation Sans, sans-serif" font-size="23" stroke="#000" stroke-width="0.25">1.3</text>
<text transform="translate(360.2,294.80) scale(1.14,1)" font-family="Liberation Serif, serif" font-size="22">α</text>
<text transform="translate(374.5,286.35) scale(1,0.84)" y="8.55" font-family="Liberation Sans, sans-serif" font-size="23" stroke="#000" stroke-width="0.55">=</text>
<text x="387.53" y="294.80" font-family="Liberation Sans, sans-serif" font-size="23" stroke="#000" stroke-width="0.25">1.5</text>
<text transform="translate(360.2,323.40) scale(1.14,1)" font-family="Liberation Serif, serif" font-size="22">α</text>
<text transform="translate(374.5,314.95) scale(1,0.84)" y="8.55" font-family="Liberation Sans, sans-serif" font-size="23" stroke="#000" stroke-width="0.55">=</text>
<text x="387.53" y="323.40" font-family="Liberation Sans, sans-serif" font-size="23" stroke="#000" stroke-width="0.25">2.5</text>
<rect x="96.26" y="439.63" width="4.68" height="5.12" fill="#fff"/><rect x="103.67" y="439.63" width="4.50" height="5.12" fill="#fff"/>
<rect x="395.94" y="177.63" width="4.68" height="5.12" fill="#fff"/><rect x="403.36" y="177.63" width="4.50" height="5.12" fill="#fff"/>
<rect x="388.28" y="234.78" width="4.68" height="5.12" fill="#fff"/><rect x="395.70" y="234.78" width="4.50" height="5.12" fill="#fff"/>
<rect x="388.28" y="263.83" width="4.68" height="5.12" fill="#fff"/><rect x="395.70" y="263.83" width="4.50" height="5.12" fill="#fff"/>
<rect x="388.28" y="291.88" width="4.68" height="5.12" fill="#fff"/><rect x="395.70" y="291.88" width="4.50" height="5.12" fill="#fff"/>
</svg></body></html>
